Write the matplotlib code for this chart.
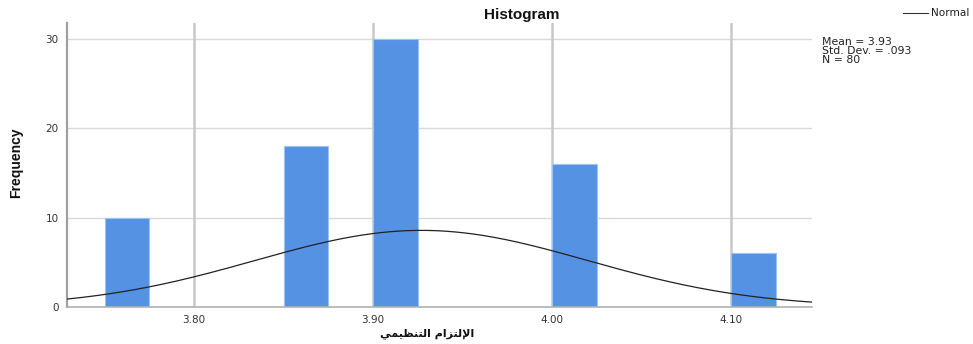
import numpy as np
import matplotlib
matplotlib.use("Agg")
import matplotlib.pyplot as plt

# Histogram bins (left edges), counts and summary statistics
bin_lefts = [3.75, 3.85, 3.90, 4.00, 4.10]
counts = [10, 18, 30, 16, 6]
bin_width = 0.025
mean_val = 3.927
std_val = 0.093
n_total = 80
x_ticks = [3.80, 3.90, 4.00, 4.10]
x_tick_labels = ["3.80", "3.90", "4.00", "4.10"]
y_ticks = [0, 10, 20, 30]

# Arabic axis title, pre-shaped into presentation forms (visual order)
_shaped = ("\uFE8D\uFEF9\uFEDF\uFE98\uFEB0\uFE8D\uFEE1 "
           "\uFE8D\uFEDF\uFE98\uFEE8\uFEC8\uFEF4\uFEE4\uFEF2")
x_title = _shaped[::-1]

W, H = 973, 344
fig = plt.figure(figsize=(W / 100, H / 100), dpi=100)
ax = fig.add_axes([67 / W, 1 - 307 / H, (812 - 67) / W, (307 - 23) / H])

ax.set_xlim(3.729, 4.1453)
ax.set_ylim(0, 31.8)

# grid
for yv in [10, 20, 30]:
    ax.axhline(yv, color="#d9d9d9", lw=1.0, zorder=0)
for xv in x_ticks:
    ax.axvline(xv, color="#c8c8c8", lw=1.8, zorder=0)

ax.bar(bin_lefts, counts, width=bin_width, align="edge",
       color="#5592e3", edgecolor="#9cc4f2", linewidth=0.8, zorder=2)

xs = np.linspace(3.729, 4.1453, 400)
pdf = n_total * bin_width / (std_val * np.sqrt(2 * np.pi)) * \
    np.exp(-0.5 * ((xs - mean_val) / std_val) ** 2)
ax.plot(xs, pdf, color="#222222", lw=0.9, zorder=3)

for s in ["top", "right"]:
    ax.spines[s].set_visible(False)
ax.spines["left"].set_color("#a0a0a0")
ax.spines["left"].set_linewidth(1.6)
ax.spines["bottom"].set_color("#b0b0b0")
ax.spines["bottom"].set_linewidth(1.2)

ax.set_xticks(x_ticks)
ax.set_xticklabels(x_tick_labels)
ax.set_yticks(y_ticks)
ax.tick_params(axis="both", length=0, labelsize=7.5, labelcolor="#333333",
               pad=6)
for lab in ax.get_xticklabels() + ax.get_yticklabels():
    lab.set_family(["DejaVu Sans"])

fig.text(16 / W, 1 - 163 / H, "Frequency", rotation=90, ha="center",
         va="center", fontsize=10, fontweight="bold",
         family=["Liberation Sans Narrow", "Liberation Sans", "DejaVu Sans"],
         color="#111111")
fig.text(427 / W, 1 - 334 / H, x_title, ha="center", va="center",
         fontsize=8, fontweight="bold", family=["DejaVu Sans"],
         color="#111111")

fig.text(522 / W, 1 - 15 / H, "Histogram", ha="center", va="center",
         fontsize=11, fontweight="bold",
         family=["Liberation Sans", "DejaVu Sans"], color="#111111")

# legend entry for the normal curve
fig.add_artist(plt.Line2D([903 / W, 928 / W], [1 - 13 / H, 1 - 13 / H],
                          color="#333333", lw=0.8))
fig.text(931 / W, 1 - 13 / H, "Normal", ha="left", va="center",
         fontsize=7.6, family=["DejaVu Sans"], color="#222222")

stats = (f"Mean = {mean_val:.2f}\n"
         f"Std. Dev. = {('%.3f' % std_val).lstrip('0')}\n"
         f"N = {n_total}")
fig.text(822 / W, 1 - 37 / H, stats, ha="left", va="top", fontsize=7.8,
         linespacing=0.85, family=["DejaVu Sans"], color="#222222")

fig.savefig("out.png", dpi=100)
